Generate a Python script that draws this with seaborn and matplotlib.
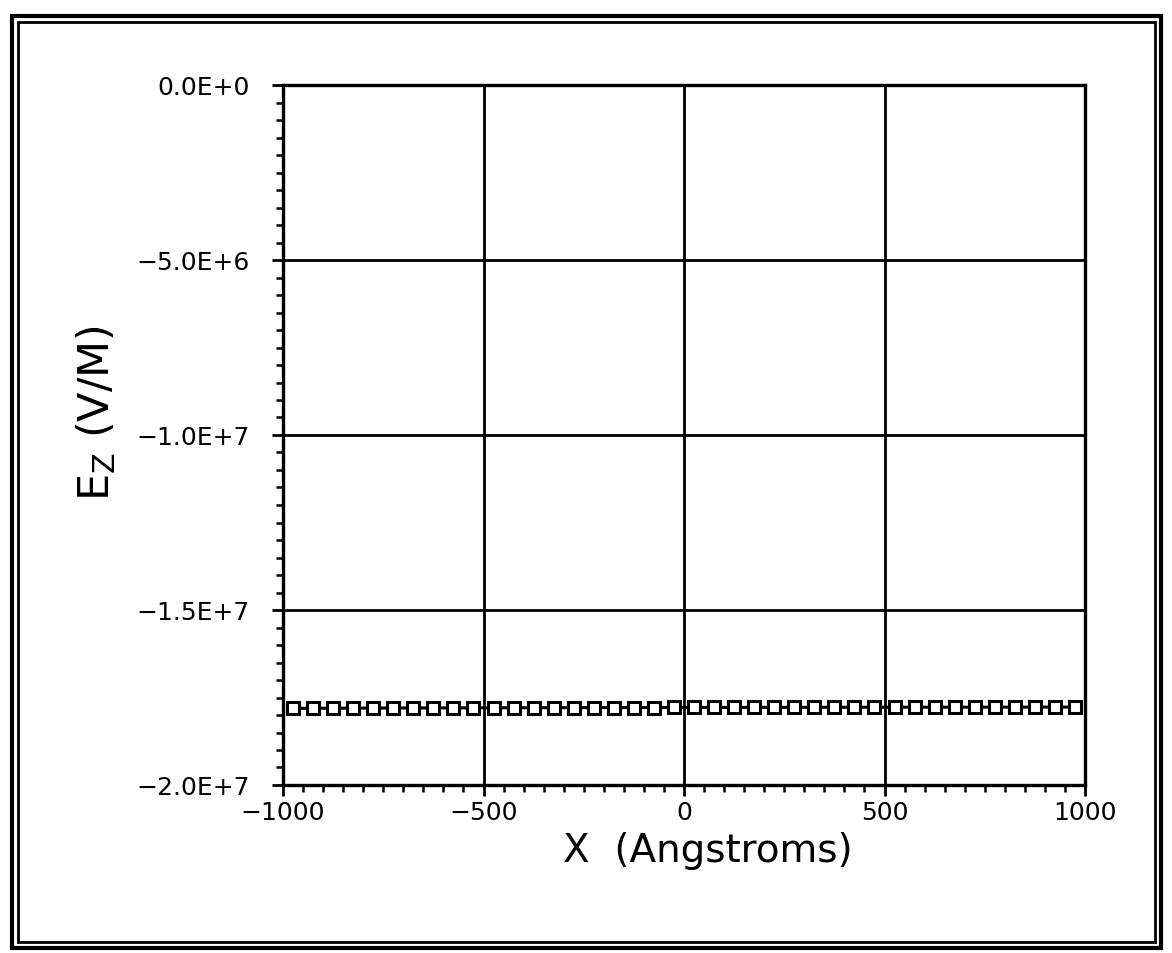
import matplotlib
matplotlib.use("Agg")
import matplotlib.pyplot as plt
from matplotlib.patches import Rectangle
from matplotlib.ticker import MultipleLocator, FixedLocator
import seaborn as sns
import pandas as pd

# Field component E_z sampled along x (Angstroms)
x_angstrom = [-975, -925, -875, -825, -775, -725, -675, -625, -575, -525,
              -475, -425, -375, -325, -275, -225, -175, -125, -75, -25,
              25, 75, 125, 175, 225, 275, 325, 375, 425, 475,
              525, 575, 625, 675, 725, 775, 825, 875, 925, 975]
ez_vpm = [-1.7810e7, -1.7808e7, -1.7806e7, -1.7804e7, -1.7802e7, -1.7800e7,
          -1.7799e7, -1.7798e7, -1.7796e7, -1.7795e7, -1.7794e7, -1.7793e7,
          -1.7792e7, -1.7791e7, -1.7790e7, -1.7789e7, -1.7788e7, -1.7787e7,
          -1.7786e7, -1.7785e7, -1.7785e7, -1.7784e7, -1.7783e7, -1.7782e7,
          -1.7782e7, -1.7781e7, -1.7780e7, -1.7780e7, -1.7779e7, -1.7778e7,
          -1.7778e7, -1.7777e7, -1.7777e7, -1.7776e7, -1.7776e7, -1.7775e7,
          -1.7775e7, -1.7774e7, -1.7774e7, -1.7773e7]

x_ticks = [-1000, -500, 0, 500, 1000]
x_tick_labels = ["\u22121000", "\u2212500", "0", "500", "1000"]
y_ticks = [0, -5e6, -1e7, -1.5e7, -2e7]
y_tick_labels = ["0.0E+0", "\u22125.0E+6", "\u22121.0E+7", "\u22121.5E+7", "\u22122.0E+7"]

df = pd.DataFrame({"x": x_angstrom, "ez": ez_vpm})

sns.set_theme(style="ticks")
plt.rcParams["font.family"] = ["DejaVu Sans"]
plt.rcParams["text.color"] = "black"
plt.rcParams["xtick.color"] = "black"
plt.rcParams["ytick.color"] = "black"
plt.rcParams["axes.labelcolor"] = "black"

fig = plt.figure(figsize=(11.72, 9.54), dpi=100)
ax = fig.add_axes([283 / 1172, 1 - 786 / 954, (1085 - 283) / 1172, (786 - 86) / 954])

sns.lineplot(data=df, x="x", y="ez", ax=ax, color="black", linewidth=2.2,
             marker="s", markersize=8.5, markerfacecolor="white",
             markeredgecolor="black", markeredgewidth=2.2)

ax.set_xlim(-1000, 1000)
ax.set_ylim(-2e7, 0)

ax.xaxis.set_major_locator(FixedLocator(x_ticks))
ax.set_xticklabels(x_tick_labels)
ax.xaxis.set_minor_locator(MultipleLocator(50))
ax.yaxis.set_major_locator(FixedLocator(y_ticks))
ax.set_yticklabels(y_tick_labels)
ax.yaxis.set_minor_locator(MultipleLocator(5e5))

ax.tick_params(axis="both", which="major", direction="out", length=8,
               width=2.0, colors="black", labelsize=18)
ax.tick_params(axis="y", which="major", pad=16)
ax.tick_params(axis="x", which="major", pad=3)
ax.tick_params(axis="both", which="minor", direction="out", length=5,
               width=1.8, colors="black")
ax.tick_params(top=False, right=False, which="both")

for side in ["left", "right", "top", "bottom"]:
    ax.spines[side].set_visible(True)
    ax.spines[side].set_linewidth(2.4)
    ax.spines[side].set_color("black")

ax.grid(True, which="major", color="black", linewidth=2.0)
ax.set_axisbelow(False)

ax.set_xlabel("X  (Angstroms)", fontsize=28)
ax.xaxis.set_label_coords(0.53, -0.066)
ax.set_ylabel(r"E$_\mathregular{Z}$ (V/M)", fontsize=31)
ax.yaxis.set_label_coords(-0.206, 0.533)

# Double border around the whole page
fig.patches.append(Rectangle((12 / 1172, 1 - 949 / 954), (1161 - 12) / 1172, (949 - 17) / 954,
                             transform=fig.transFigure, fill=False,
                             edgecolor="black", linewidth=3.0))
fig.patches.append(Rectangle((18 / 1172, 1 - 943 / 954), (1155 - 18) / 1172, (943 - 23) / 954,
                             transform=fig.transFigure, fill=False,
                             edgecolor="black", linewidth=2.0))

fig.savefig("out.png", dpi=100, facecolor="white")
